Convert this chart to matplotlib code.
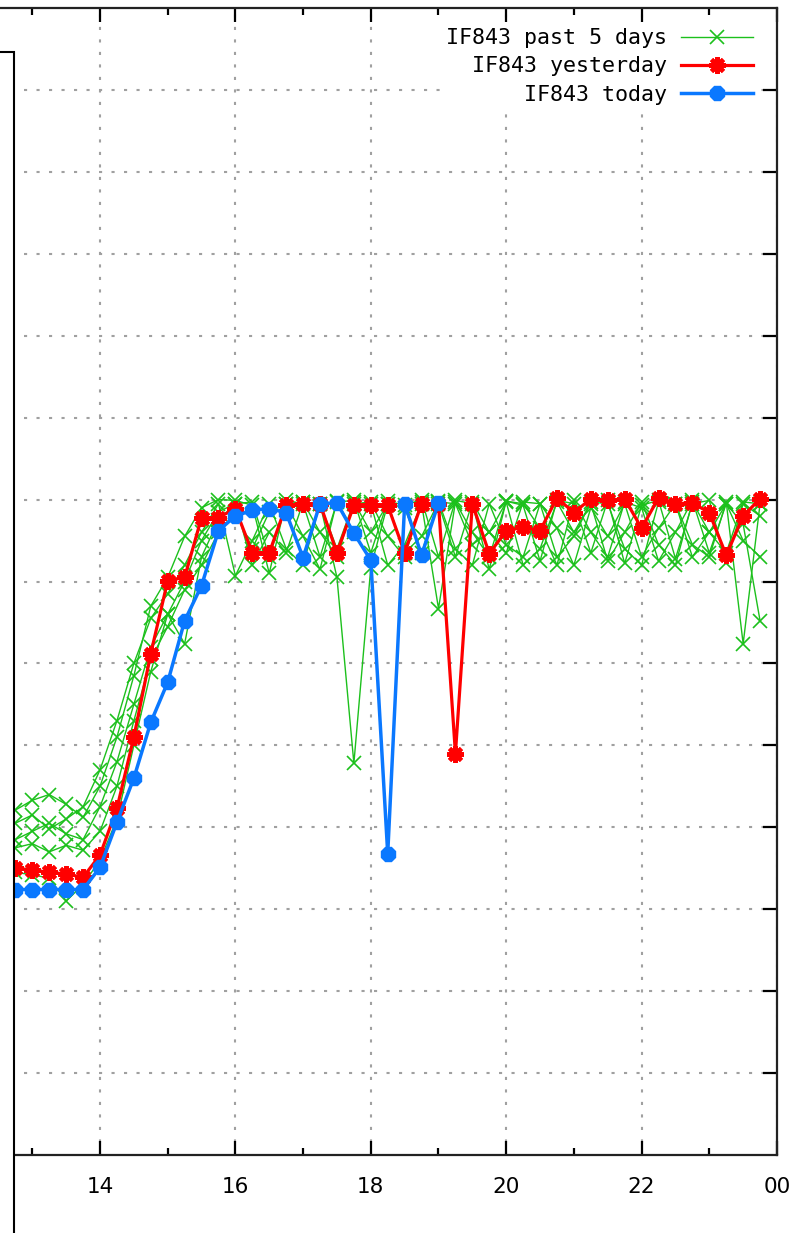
import numpy as np
import matplotlib
matplotlib.use("Agg")
import matplotlib.pyplot as plt
from matplotlib.patches import Rectangle

# hours of the samples, every 15 minutes
hours = [12.75, 13.0, 13.25, 13.5, 13.75, 14.0, 14.25, 14.5, 14.75, 15.0,
         15.25, 15.5, 15.75, 16.0, 16.25, 16.5, 16.75, 17.0, 17.25, 17.5,
         17.75, 18.0, 18.25, 18.5, 18.75, 19.0, 19.25, 19.5, 19.75, 20.0,
         20.25, 20.5, 20.75, 21.0, 21.25, 21.5, 21.75, 22.0, 22.25, 22.5,
         22.75, 23.0, 23.25, 23.5, 23.75]

# past 5 days (green)
past1 = [4.21, 4.33, 4.40, 4.28, 4.12, 4.50, 5.10, 5.85, 6.70, 7.05, 7.55, 7.90, 8.00, 7.99, 7.93,
         7.10, 7.99, 7.95, 7.30, 7.97, 7.99, 7.35, 7.98, 7.93, 8.00, 7.30, 7.99, 7.95, 7.15, 7.98,
         7.93, 7.25, 7.99, 7.95, 7.35, 7.99, 7.22, 7.93, 7.99, 7.28, 7.95, 7.99, 7.22, 7.95, 7.80]
past2 = [4.05, 4.15, 3.98, 4.10, 4.25, 4.70, 5.30, 6.00, 6.55, 6.85, 7.20, 7.60, 7.95, 7.07, 7.50,
         7.95, 7.40, 7.20, 7.95, 7.05, 4.78, 7.17, 7.95, 7.90, 7.35, 7.98, 7.40, 7.20, 7.95, 7.45,
         7.30, 7.95, 7.65, 7.20, 7.90, 7.55, 7.95, 7.30, 7.65, 7.95, 7.30, 7.60, 7.95, 7.70, 6.52]
past3 = [3.85, 3.95, 4.05, 3.92, 3.85, 4.25, 4.80, 5.50, 6.20, 6.60, 6.24, 7.30, 7.75, 7.95, 7.97,
         7.30, 7.95, 7.55, 7.15, 7.98, 7.60, 7.95, 7.20, 7.45, 7.95, 6.67, 7.97, 7.60, 7.30, 7.98,
         7.95, 7.65, 7.20, 7.99, 7.60, 7.30, 7.97, 7.90, 7.25, 7.60, 7.99, 7.35, 7.95, 7.50, 7.30]
past4 = [3.75, 3.80, 3.70, 3.78, 3.72, 3.95, 4.50, 5.30, 6.05, 6.45, 6.90, 7.20, 7.60, 7.85, 7.40,
         7.85, 7.95, 7.97, 7.60, 7.30, 7.95, 7.97, 7.55, 7.30, 7.97, 7.95, 7.30, 7.97, 7.60, 7.35,
         7.97, 7.95, 7.30, 7.55, 7.97, 7.95, 7.40, 7.20, 7.97, 7.95, 7.45, 7.30, 7.97, 6.24, 7.95]
past5 = [3.45, 3.42, 3.38, 3.10, 3.30, 3.60, 4.10, 5.00, 5.90, 6.60, 7.00, 7.50, 7.85, 7.95, 7.20,
         7.60, 7.35, 7.97, 7.95, 7.40, 7.97, 7.60, 7.95, 7.35, 7.55, 7.97, 7.95, 7.45, 7.60, 7.97,
         7.20, 7.40, 7.97, 7.60, 7.95, 7.25, 7.60, 7.97, 7.45, 7.20, 7.97, 7.60, 7.35, 7.97, 7.95]

# yesterday (red)
yesterday = [3.50, 3.48, 3.45, 3.43, 3.39, 3.66, 4.23, 5.10, 6.12, 7.01, 7.05, 7.78, 7.78, 7.89, 7.35,
             7.35, 7.93, 7.95, 7.95, 7.35, 7.93, 7.93, 7.93, 7.35, 7.95, 7.95, 4.90, 7.95, 7.34, 7.62,
             7.66, 7.62, 8.02, 7.84, 8.01, 7.99, 8.01, 7.65, 8.02, 7.95, 7.96, 7.84, 7.32, 7.80, 8.01]

# today (blue), up to 19:00
today = [3.24, 3.24, 3.24, 3.24, 3.24, 3.51, 4.06, 4.60, 5.28, 5.77, 6.52, 6.95, 7.62,
         7.80, 7.87, 7.89, 7.84, 7.29, 7.95, 7.96, 7.59, 7.26, 3.68, 7.95, 7.32, 7.96]

xticks = [14, 16, 18, 20, 22, 24]
xticklabels = ["14", "16", "18", "20", "22", "00"]

W, H = 790, 1233
fig = plt.figure(figsize=(W / 100, H / 100), dpi=100)
# plot area: x=14 at px 100, 67.7 px per hour, right border at px 777
left = (100 - 2 * 67.7) / W
ax = fig.add_axes([left, 78 / H, (777 - (100 - 2 * 67.7)) / W, (1155 - 8) / H])

green = "#1cc01c"
for i, s in enumerate([past1, past2, past3, past4, past5]):
    ax.plot(hours, s, color=green, lw=1.0, marker="x", ms=10, mew=1.2,
            label="IF843 past 5 days" if i == 0 else None, zorder=2)
ax.plot(hours, yesterday, color="#ff0000", lw=2.3, marker=(8, 2, 0), ms=12, mew=3.0,
        label="IF843 yesterday", zorder=3)
ax.plot(hours[:len(today)], today, color="#0a78ff", lw=2.5, marker="8", ms=11,
        label="IF843 today", zorder=4)

ax.set_xlim(12, 24)
ax.set_ylim(0, 14)
ax.set_xticks(xticks)
ax.set_xticklabels(xticklabels, fontsize=15.5, family="DejaVu Sans")
ax.set_xticks(np.arange(13, 24, 2), minor=True)
ax.set_yticks(np.arange(1, 14))
ax.set_yticklabels([])
ax.grid(True, color="#a0a0a0", linestyle=(0, (1.5, 4.5)), lw=1.5)
ax.tick_params(which="major", direction="in", length=10, width=1.6, top=True, right=True, pad=16)
ax.tick_params(which="minor", direction="in", length=5, width=1.6, top=True, right=False)
ax.tick_params(axis="y", which="both", left=False)
for sp in ax.spines.values():
    sp.set_linewidth(1.6)
    sp.set_color("#222222")

# key box is blanked (white, no border) like gnuplot's key
leg = ax.legend(loc="upper right", bbox_to_anchor=(0.9727, 0.9843), frameon=True,
                facecolor="white", edgecolor="none", framealpha=1, fancybox=False,
                markerfirst=False, numpoints=1, handlelength=3.3, handletextpad=0.65,
                labelspacing=0.38, borderpad=0.1, borderaxespad=0,
                prop={"family": "DejaVu Sans Mono", "size": 15.6})

# white box covering the left part of the chart
fig.add_artist(Rectangle((-0.05, -0.05), 0.05 + 14 / W, 0.05 + (H - 52) / H,
                         transform=fig.transFigure, facecolor="white",
                         edgecolor="black", lw=1.5, zorder=10))

fig.savefig("out.png", dpi=100)
